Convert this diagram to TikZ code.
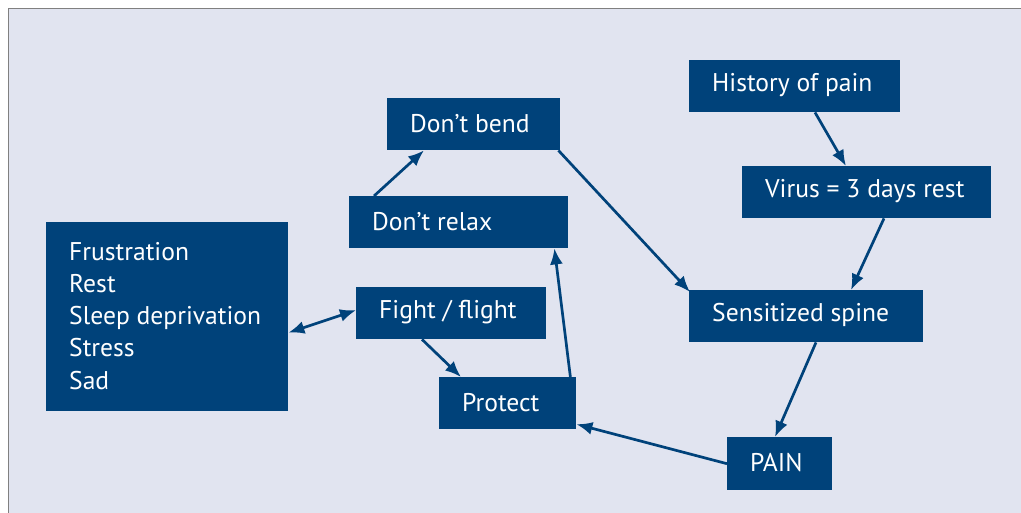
\documentclass[tikz,border=0pt]{standalone}
\usepackage{fontspec}
\setmainfont{PT Sans}
\usetikzlibrary{arrows.meta}
\definecolor{bg}{RGB}{225,228,240}
\definecolor{boxc}{RGB}{0,66,122}
\definecolor{frame}{RGB}{128,128,128}
\tikzset{
  box/.style={fill=boxc, anchor=north west, inner sep=0pt},
  lbl/.style={text=white, anchor=west, inner sep=0pt, font=\fontsize{25.6}{32.3}\selectfont, align=left},
  conn/.style={draw=boxc, line width=2.7pt, -{Latex[length=16pt,width=13pt]}},
  bconn/.style={draw=boxc, line width=2.7pt, {Latex[length=16pt,width=13pt]}-{Latex[length=16pt,width=13pt]}}
}
\newcommand{\bx}[6]{% name, x, y, w, h, text
  \node[box, minimum width=#4pt, minimum height=#5pt] (#1) at (#2,#3) {};
  \node[lbl] (#1t) at ([xshift=23pt,yshift=1pt]#1.west) {#6};
}
\begin{document}
\begin{tikzpicture}[x=1pt,y=-1pt]
\useasboundingbox (0,0) rectangle (1021,513);
\fill[white] (0,0) rectangle (1021,513);
\fill[bg] (8.5,8.5) rectangle (1021,513);
\draw[frame, line width=1.6pt] (8.5,513) -- (8.5,8.5) -- (1021,8.5);
\bx{left}{46}{222}{242}{189}{Frustration\\Rest\\Sleep deprivation\\Stress\\Sad}
\bx{bend}{387}{98}{173}{52}{Don’t bend}
\bx{relax}{349}{196}{219}{52}{Don’t relax}
\bx{fight}{356}{287}{190}{52}{Fight / flight}
\bx{prot}{439}{377}{137}{52}{Protect}
\bx{hist}{689}{60}{211}{52}{History of pain}
\bx{virus}{742}{166}{249}{52}{Virus = 3 days rest}
\bx{spine}{689}{290}{234}{52}{Sensitized spine}
\bx{pain}{727}{437}{105}{53}{PAIN}
\draw[conn] ([xshift=25pt]relax.north west) -- ([xshift=37pt]bend.south west);
\draw[conn] ([xshift=-2pt]bend.south east) -- ([xshift=1pt,yshift=-2pt]spine.north west);
\draw[conn] ([xshift=126pt]hist.south west) -- ([xshift=104pt]virus.north west);
\draw[conn] ([xshift=142pt]virus.south west) -- ([xshift=162pt]spine.north west);
\draw[conn] ([xshift=127pt]spine.south west) -- ([xshift=48pt]pain.north west);
\draw[conn] (pain.west) -- ([yshift=-21pt]prot.east);
\draw[conn] ([xshift=-6pt]prot.north east) -- ([xshift=-14pt]relax.south east);
\draw[conn] ([xshift=66pt]fight.south west) -- ([xshift=22pt]prot.north west);
\draw[bconn] ([yshift=-16pt]left.east) -- ([yshift=3pt]fight.west);
\end{tikzpicture}
\end{document}
